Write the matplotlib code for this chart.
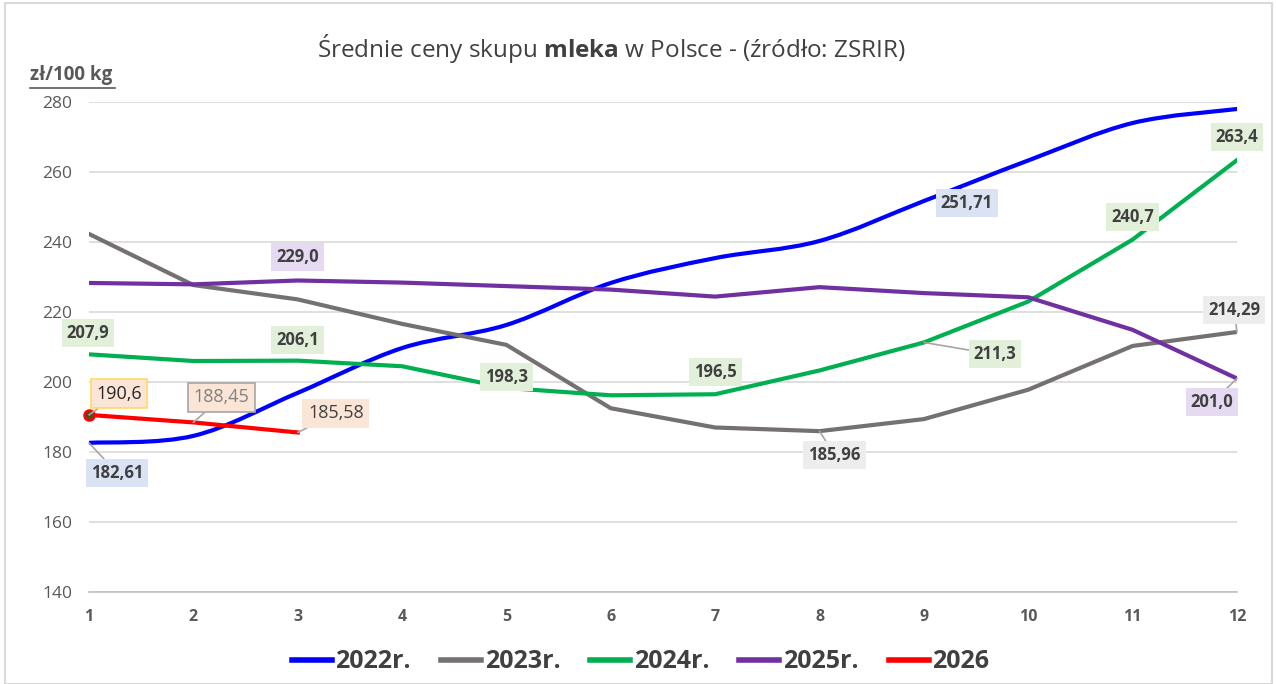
import numpy as np
import matplotlib.pyplot as plt
from matplotlib.path import Path
from matplotlib.patches import PathPatch, Rectangle
from matplotlib.lines import Line2D

plt.rcParams['font.family'] = ['Open Sans', 'DejaVu Sans']
plt.rcParams['mathtext.fontset'] = 'custom'
plt.rcParams['mathtext.bf'] = 'Open Sans:bold'
plt.rcParams['mathtext.rm'] = 'Open Sans'

# data
months = np.arange(1, 13)
y2022 = [182.61, 184.6, 196.9, 209.7, 216.3, 228.3, 235.4, 240.3, 251.71, 263.3, 274.0, 278.0]
y2023 = [242.3, 227.7, 223.6, 216.6, 210.6, 192.5, 187.0, 185.96, 189.4, 197.8, 210.3, 214.29]
y2024 = [207.9, 206.0, 206.1, 204.5, 198.3, 196.2, 196.5, 203.3, 211.3, 223.0, 240.7, 263.4]
y2025 = [228.3, 227.9, 229.0, 228.4, 227.4, 226.4, 224.4, 227.1, 225.4, 224.2, 214.9, 201.0]
y2026 = [190.6, 188.45, 185.58]
m2026 = months[:3]

c2022, c2023, c2024, c2025, c2026 = '#0000FF', '#767171', '#00B050', '#7030A0', '#FF0000'
txt = '#404040'

fig = plt.figure(figsize=(12.76, 6.84), dpi=100)
fig.patches.append(Rectangle((0.004, 0.0), 0.993, 0.995, transform=fig.transFigure,
                             fill=False, edgecolor='#D9D9D9', linewidth=1.5))
ax = fig.add_axes([89/1276, 1-592/684, (1237-89)/1276, (592-102)/684])
ax.set_xlim(1, 12)
ax.set_ylim(140, 280)
ax.set_yticks(range(140, 281, 20))
ax.set_xticks(months)
ax.grid(axis='y', color='#D9D9D9', linewidth=1.2)
ax.set_axisbelow(True)
for s in ['top', 'right', 'left']:
    ax.spines[s].set_visible(False)
ax.spines['bottom'].set_color('#BFBFBF')
ax.spines['bottom'].set_linewidth(1.2)
ax.tick_params(length=0)
ax.tick_params(axis='y', labelsize=12.5, labelcolor='#595959', pad=12)
ax.tick_params(axis='x', labelsize=11.5, labelcolor='#595959', pad=12)
for t in ax.get_xticklabels():
    t.set_fontweight('bold')


def smooth_path(xs, ys):
    # Excel-like smoothed line: cubic Bezier through the data points
    pts = np.column_stack([xs, ys]).astype(float)
    verts = [pts[0]]
    codes = [Path.MOVETO]
    n = len(pts)
    for i in range(n - 1):
        p0 = pts[i - 1] if i > 0 else pts[i]
        p1, p2 = pts[i], pts[i + 1]
        p3 = pts[i + 2] if i + 2 < n else pts[i + 1]
        verts += [p1 + (p2 - p0) / 6, p2 - (p3 - p1) / 6, p2]
        codes += [Path.CURVE4] * 3
    return Path(verts, codes)


lw = 3
ax.add_patch(PathPatch(smooth_path(months, y2022), fill=False, edgecolor=c2022,
                       linewidth=lw, capstyle='round', zorder=3))
ax.plot(months, y2023, color=c2023, lw=lw, zorder=3)
ax.plot(months, y2024, color=c2024, lw=lw, zorder=3)
ax.plot(months, y2025, color=c2025, lw=lw, zorder=3)
ax.plot(m2026, y2026, color=c2026, lw=lw, zorder=4)
ax.plot(m2026[:1], y2026[:1], 'o', ms=7, mfc='#385723', mec=c2026, mew=2, zorder=5,
        clip_on=False)


def fmt(v, nd):
    return f'{v:.{nd}f}'.replace('.', ',')


# labels: (x, y, decimals, dx px, dy px, bg, edge, text colour, bold, leader)
labels = [
    (1, y2022[0], 2, 28, -30, '#DAE3F3', 'none', txt, True, True),
    (9, y2022[8], 2, 43, -2, '#DAE3F3', 'none', txt, True, False),
    (8, y2023[7], 2, 15, -24, '#EDEDED', 'none', txt, True, True),
    (12, y2023[11], 2, -3, 22, '#EDEDED', 'none', txt, True, True),
    (1, y2024[0], 1, -1, 21, '#E2F0D9', 'none', txt, True, False),
    (3, y2024[2], 1, 0, 21, '#E2F0D9', 'none', txt, True, False),
    (5, y2024[4], 1, 0, 11, '#E2F0D9', 'none', txt, True, False),
    (7, y2024[6], 1, 0, 22, '#E2F0D9', 'none', txt, True, False),
    (9, y2024[8], 1, 71, -12, '#E2F0D9', 'none', txt, True, True),
    (11, y2024[10], 1, 0, 23, '#E2F0D9', 'none', txt, True, False),
    (12, y2024[11], 1, 0, 23, '#E2F0D9', 'none', txt, True, False),
    (3, y2025[2], 1, 0, 23, '#E6D9F2', 'none', txt, True, False),
    (12, y2025[11], 1, -25, -24, '#E6D9F2', 'none', txt, True, True),
    (1, y2026[0], 1, 30, 21, '#FBE5D6', '#FFD966', '#262626', False, True),
    (2, y2026[1], 2, 28, 25, '#FBE5D6', '#A6A6A6', '#808080', False, True),
    (3, y2026[2], 2, 38, 19, '#FBE5D6', 'none', txt, False, True),
]
for x, y, nd, dx, dy, bg, ec, tc, bold, leader in labels:
    ax.annotate(fmt(y, nd), xy=(x, y), xytext=(dx, dy), textcoords='offset pixels',
                ha='center', va='center', fontsize=12 if bold else 13,
                fontweight='bold' if bold else 'normal', color=tc, zorder=6,
                bbox=dict(boxstyle='square,pad=0.3', fc=bg, ec=ec, lw=1.2),
                arrowprops=dict(arrowstyle='-', color='#A6A6A6', lw=1.2,
                                shrinkA=0, shrinkB=0) if leader else None,
                annotation_clip=False)

fig.text(0.479, 0.929, 'Średnie ceny skupu $\\mathbf{mleka}$ w Polsce - (źródło: ZSRIR)',
         ha='center', va='center', fontsize=17.5, color='#404040')

fig.text(30/1276, 1-75/684, 'zł/100 kg', ha='left', va='center', fontsize=13.5,
         fontweight='bold', color='#595959')
fig.add_artist(Line2D([30/1276, 115/1276], [1-88/684, 1-88/684], color='#595959', lw=1.2))

handles = [Line2D([], [], color=c, lw=4) for c in (c2022, c2023, c2024, c2025, c2026)]
leg = fig.legend(handles, ['2022r.', '2023r.', '2024r.', '2025r.', '2026'], loc='center',
                 bbox_to_anchor=(0.502, 1-662/684), ncol=5, frameon=False, handlelength=1.6,
                 handletextpad=0.15, columnspacing=1.2,
                 prop={'family': 'Open Sans', 'weight': 'bold', 'size': 18})
for t in leg.get_texts():
    t.set_color(txt)

fig.savefig('out.png', dpi=100)
